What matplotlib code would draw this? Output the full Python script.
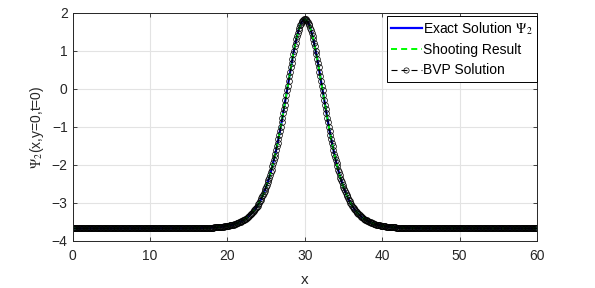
import numpy as np
import matplotlib
matplotlib.use('Agg')
import matplotlib.pyplot as plt

plt.rcParams['font.family'] = ['Liberation Sans', 'DejaVu Sans']
plt.rcParams['mathtext.fontset'] = 'stix'

# x grid of the solution (step 0.1 over [0, 60])
x = np.linspace(0, 60, 601)

# Psi_2(x, y=0, t=0), x = 0 ... 29.9
psi_left = [
    -3.67, -3.67, -3.67, -3.67, -3.67, -3.67, -3.67, -3.67, -3.67, -3.67,
    -3.67, -3.67, -3.67, -3.67, -3.67, -3.67, -3.67, -3.67, -3.67, -3.67,
    -3.67, -3.67, -3.67, -3.67, -3.67, -3.67, -3.67, -3.67, -3.67, -3.67,
    -3.67, -3.67, -3.67, -3.67, -3.67, -3.67, -3.67, -3.67, -3.67, -3.67,
    -3.67, -3.67, -3.67, -3.67, -3.67, -3.67, -3.67, -3.67, -3.67, -3.67,
    -3.67, -3.67, -3.67, -3.67, -3.67, -3.67, -3.67, -3.67, -3.67, -3.67,
    -3.67, -3.67, -3.67, -3.67, -3.67, -3.67, -3.67, -3.67, -3.67, -3.67,
    -3.67, -3.67, -3.67, -3.67, -3.67, -3.67, -3.67, -3.67, -3.67, -3.67,
    -3.67, -3.67, -3.67, -3.67, -3.67, -3.67, -3.67, -3.67, -3.67, -3.67,
    -3.67, -3.67, -3.67, -3.67, -3.67, -3.67, -3.67, -3.67, -3.67, -3.67,
    -3.67, -3.67, -3.67, -3.67, -3.67, -3.67, -3.67, -3.67, -3.67, -3.67,
    -3.67, -3.67, -3.67, -3.67, -3.67, -3.67,
    -3.669, -3.669, -3.669, -3.669, -3.669, -3.669, -3.669, -3.669, -3.669, -3.669,
    -3.669, -3.669, -3.669, -3.669, -3.669, -3.669, -3.669, -3.669, -3.669,
    -3.668, -3.668, -3.668, -3.668, -3.668,
    -3.668, -3.668, -3.668, -3.668, -3.667, -3.667, -3.667, -3.667, -3.667, -3.667,
    -3.666, -3.666, -3.666, -3.666, -3.665, -3.665, -3.665, -3.665, -3.664, -3.664,
    -3.663, -3.663, -3.663, -3.662, -3.662, -3.661, -3.661, -3.660, -3.660, -3.659,
    -3.658, -3.658, -3.657, -3.656, -3.655, -3.654, -3.653, -3.652, -3.651, -3.650,
    -3.649, -3.648, -3.647, -3.645, -3.644, -3.642, -3.640, -3.639, -3.637, -3.635,
    -3.633, -3.631, -3.628, -3.626, -3.623, -3.620, -3.617, -3.614, -3.611, -3.607,
    -3.60, -3.60, -3.60,
    -3.59, -3.59, -3.58, -3.58, -3.57, -3.57, -3.56, -3.55, -3.55, -3.54,
    -3.53, -3.52, -3.51, -3.50, -3.49, -3.48, -3.47, -3.46, -3.45, -3.44,
    -3.42, -3.41, -3.39, -3.38, -3.36, -3.34, -3.32, -3.30, -3.28, -3.26,
    -3.24, -3.21, -3.19, -3.16, -3.13, -3.10, -3.07, -3.03, -3.00, -2.96,
    -2.92, -2.88, -2.83, -2.79, -2.74, -2.69, -2.64, -2.58, -2.52, -2.46,
    -2.40, -2.34, -2.27, -2.19, -2.12, -2.04, -1.96, -1.88, -1.79, -1.70,
    -1.61, -1.51, -1.41, -1.31, -1.21, -1.10, -0.99, -0.88, -0.76, -0.64,
    -0.53, -0.41, -0.28, -0.16, -0.04, 0.08, 0.21, 0.33, 0.45, 0.57,
    0.68, 0.80, 0.91, 1.01, 1.12, 1.21, 1.31, 1.39, 1.47, 1.54,
    1.61, 1.67, 1.72, 1.76, 1.79, 1.81, 1.83,
]
# peak at x = 30
psi_peak = [1.83]
# x = 30.1 ... 60
psi_right = [
    1.83, 1.81, 1.79, 1.76, 1.72, 1.67, 1.61,
    1.54, 1.47, 1.39, 1.31, 1.21, 1.12, 1.01, 0.91, 0.80, 0.68,
    0.57, 0.45, 0.33, 0.21, 0.08, -0.04, -0.16, -0.28, -0.41, -0.53,
    -0.64, -0.76, -0.88, -0.99, -1.10, -1.21, -1.31, -1.41, -1.51, -1.61,
    -1.70, -1.79, -1.88, -1.96, -2.04, -2.12, -2.19, -2.27, -2.34, -2.40,
    -2.46, -2.52, -2.58, -2.64, -2.69, -2.74, -2.79, -2.83, -2.88, -2.92,
    -2.96, -3.00, -3.03, -3.07, -3.10, -3.13, -3.16, -3.19, -3.21, -3.24,
    -3.26, -3.28, -3.30, -3.32, -3.34, -3.36, -3.38, -3.39, -3.41, -3.42,
    -3.44, -3.45, -3.46, -3.47, -3.48, -3.49, -3.50, -3.51, -3.52, -3.53,
    -3.54, -3.55, -3.55, -3.56, -3.57, -3.57, -3.58, -3.58, -3.59, -3.59,
    -3.60, -3.60, -3.60,
    -3.607, -3.611, -3.614, -3.617, -3.620, -3.623, -3.626, -3.628, -3.631, -3.633,
    -3.635, -3.637, -3.639, -3.640, -3.642, -3.644, -3.645, -3.647, -3.648, -3.649,
    -3.650, -3.651, -3.652, -3.653, -3.654, -3.655, -3.656, -3.657, -3.658, -3.658,
    -3.659, -3.660, -3.660, -3.661, -3.661, -3.662, -3.662, -3.663, -3.663, -3.663,
    -3.664, -3.664, -3.665, -3.665, -3.665, -3.665, -3.666, -3.666, -3.666, -3.666,
    -3.667, -3.667, -3.667, -3.667, -3.667, -3.667, -3.668, -3.668, -3.668, -3.668,
    -3.668, -3.668, -3.668, -3.668, -3.668,
    -3.669, -3.669, -3.669, -3.669, -3.669, -3.669, -3.669, -3.669, -3.669, -3.669,
    -3.669, -3.669, -3.669, -3.669, -3.669, -3.669, -3.669, -3.669, -3.669,
    -3.67, -3.67, -3.67, -3.67, -3.67, -3.67,
    -3.67, -3.67, -3.67, -3.67, -3.67, -3.67, -3.67, -3.67, -3.67, -3.67,
    -3.67, -3.67, -3.67, -3.67, -3.67, -3.67, -3.67, -3.67, -3.67, -3.67,
    -3.67, -3.67, -3.67, -3.67, -3.67, -3.67, -3.67, -3.67, -3.67, -3.67,
    -3.67, -3.67, -3.67, -3.67, -3.67, -3.67, -3.67, -3.67, -3.67, -3.67,
    -3.67, -3.67, -3.67, -3.67, -3.67, -3.67, -3.67, -3.67, -3.67, -3.67,
    -3.67, -3.67, -3.67, -3.67, -3.67, -3.67, -3.67, -3.67, -3.67, -3.67,
    -3.67, -3.67, -3.67, -3.67, -3.67, -3.67, -3.67, -3.67, -3.67, -3.67,
    -3.67, -3.67, -3.67, -3.67, -3.67, -3.67, -3.67, -3.67, -3.67, -3.67,
    -3.67, -3.67, -3.67, -3.67, -3.67, -3.67, -3.67, -3.67, -3.67, -3.67,
    -3.67, -3.67, -3.67, -3.67, -3.67, -3.67, -3.67, -3.67, -3.67, -3.67,
    -3.67, -3.67, -3.67, -3.67, -3.67, -3.67, -3.67, -3.67, -3.67, -3.67,
]
psi = psi_left + psi_peak + psi_right
assert len(psi) == len(x), len(psi)

# the three methods agree to plotting accuracy
psi_exact = psi
psi_shooting = psi
psi_bvp = psi

labels = [r'Exact Solution $\Psi_2$', 'Shooting Result', 'BVP Solution']
xticks = [0, 10, 20, 30, 40, 50, 60]
yticks = [-4, -3, -2, -1, 0, 1, 2]

fig = plt.figure(figsize=(5.95, 2.88), dpi=100)
# bottom nudged a fraction of a pixel so the flat tail does not straddle a pixel row
ax = fig.add_axes([0.122, 0.1634, 0.7805, 0.7916])

ax.plot(x, psi_exact, color='#0000ff', lw=1.6, label=labels[0])
ax.plot(x, psi_shooting, color='#00ff00', lw=1.4, ls=(0, (3.1, 2.1)),
        label=labels[1])
ax.plot(x, psi_bvp, color='k', lw=0.8, ls=(0, (5.4, 3.6)), marker='o',
        ms=4.2, mfc='none', mec='k', mew=0.5, label=labels[2])

ax.set_xlim(0, 60)
ax.set_ylim(-4, 2)
ax.set_xticks(xticks)
ax.set_yticks(yticks)
ax.grid(True, color='#e3e3e3', lw=0.8)
ax.set_axisbelow(True)
ax.tick_params(direction='in', length=3, width=0.6, top=True, right=True,
               labelsize=10, colors='#262626')
ax.tick_params(axis='x', pad=6)
for s in ax.spines.values():
    s.set_linewidth(0.7)
    s.set_color('#262626')

ax.set_xlabel('x', fontsize=11, color='#262626', labelpad=7)
ax.set_ylabel(r'$\Psi_2$(x,y=0,t=0)', fontsize=10, color='#262626', labelpad=4)

leg = ax.legend(loc='upper right', bbox_to_anchor=(1.0, 0.987),
                borderaxespad=0, fontsize=10, frameon=True, fancybox=False,
                edgecolor='k', framealpha=1,
                handlelength=2.2, handletextpad=0.1, borderpad=0.3,
                labelspacing=0.45)
leg.get_frame().set_linewidth(0.7)
leg.legend_handles[2].set_markersize(3.8)

fig.savefig('out.png', dpi=100)
